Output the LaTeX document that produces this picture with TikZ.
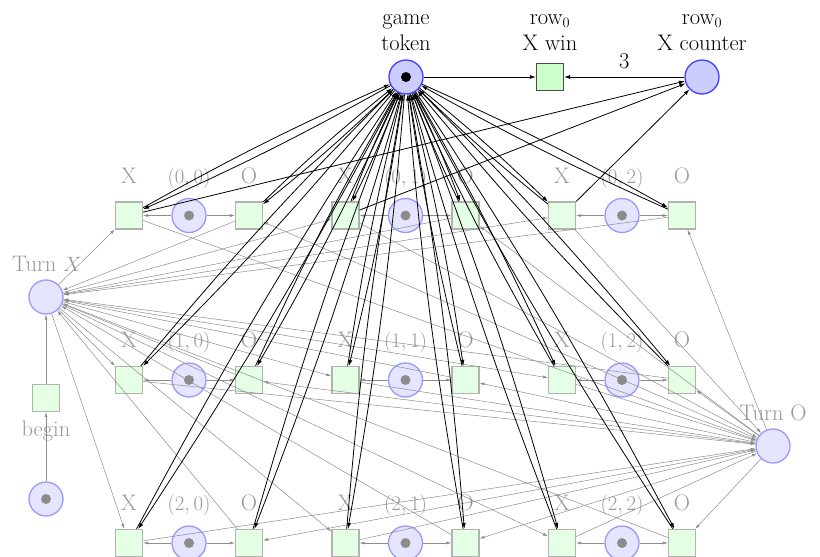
\documentclass[tikz,border=0pt]{standalone}
\usetikzlibrary{arrows.meta}
\begin{document}
\begin{tikzpicture}[x=1pt,y=-1pt,
  font=\fontsize{22.5}{26.5}\selectfont,
  place/.style={circle,minimum size=34pt,inner sep=0pt,fill=blue!10,draw=blue!40,line width=1.3pt},
  bigplace/.style={circle,minimum size=34pt,inner sep=0pt,fill=blue!20,draw=blue!75,line width=1.3pt},
  trans/.style={rectangle,minimum size=27pt,inner sep=0pt,fill=green!10,draw=black!30,line width=1.2pt},
  bigtrans/.style={rectangle,minimum size=27pt,inner sep=0pt,fill=green!20,draw=black!70,line width=1.2pt},
  tok/.style={circle,fill=black!45,inner sep=0pt,minimum size=10pt},
  bigtok/.style={circle,fill=black,inner sep=0pt,minimum size=10pt},
  lbl/.style={text=black!40,anchor=base,inner sep=0pt},
  toplbl/.style={anchor=south,inner sep=0pt,align=center},
  gry/.style={draw=black!45,line width=0.5pt,-{Latex[length=5pt,width=3pt]}},
  blk/.style={draw=black,line width=0.8pt,-{Latex[length=6pt,width=4pt]}},
]
\useasboundingbox (0,0) rectangle (820,557);

% top part
\node[bigplace] (gt) at (406,77) {};
\node[bigtok] (gtt) at (gt) {};
\node[bigtrans] (win) at (550,77) {};
\node[bigplace] (cnt) at (702,77) {};
\node[toplbl] (gtl) at (406,51) {game\\token};
\node[toplbl] (winl) at (550,51) {row$_0$\\X win};
\node[toplbl] (cntl) at (702,51) {row$_0$\\X counter};

% left column
\node[place] (tx) at (46,297) {};
\node[lbl] (txl) at (47,271) {Turn $X$};
\node[trans] (beg) at (46,398) {};
\node[lbl] (begl) at (46,436) {begin};
\node[place] (ini) at (46,499) {};
\node[tok] (init) at (ini) {};
\node[place] (to) at (773,446) {};
\node[lbl] (tol) at (773,420) {Turn O};

% grid
\foreach \i/\y in {0/215.5,1/380,2/543}{
  \foreach \j/\x in {0/129,1/345.5,2/562}{
    \node[trans] (x\i\j) at (\x,\y) {};
    \node[place] (p\i\j) at (\x+60,\y) {};
    \node[tok] (pt\i\j) at (p\i\j) {};
    \node[trans] (o\i\j) at (\x+120,\y) {};
    \node[lbl] (xl\i\j) at (\x,\y-32.5) {X};
    \node[lbl] (pl\i\j) at (\x+60,\y-32.5) {$(\i,\j)$};
    \node[lbl] (ol\i\j) at (\x+120,\y-32.5) {O};
  }
}

% gray edges
\draw[gry] (ini) -- (beg);
\draw[gry] (beg) -- (tx);
\foreach \i in {0,1,2}{
  \foreach \j in {0,1,2}{
    \draw[gry] (p\i\j) -- (x\i\j);
    \draw[gry] (p\i\j) -- (o\i\j);
    \draw[gry] (tx) -- (x\i\j);
    \draw[gry] (x\i\j) -- (to);
    \draw[gry] (to) -- (o\i\j);
    \draw[gry] (o\i\j) -- (tx);
  }
}

% black edges
\foreach \i in {0,1,2}{
  \foreach \j in {0,1,2}{
    \draw[blk] (gt) to[bend left=2.5] (x\i\j);
    \draw[blk] (x\i\j) to[bend left=2.5] (gt);
    \draw[blk] (gt) to[bend left=2.5] (o\i\j);
    \draw[blk] (o\i\j) to[bend left=2.5] (gt);
  }
}
\foreach \j in {0,1,2}{
  \draw[blk] (x0\j) -- (cnt);
}
\draw[blk] (gt) -- (win);
\draw[blk] (cnt) -- node[midway,above=8pt,inner sep=0pt] (w3) {3} (win);
\end{tikzpicture}
\end{document}
